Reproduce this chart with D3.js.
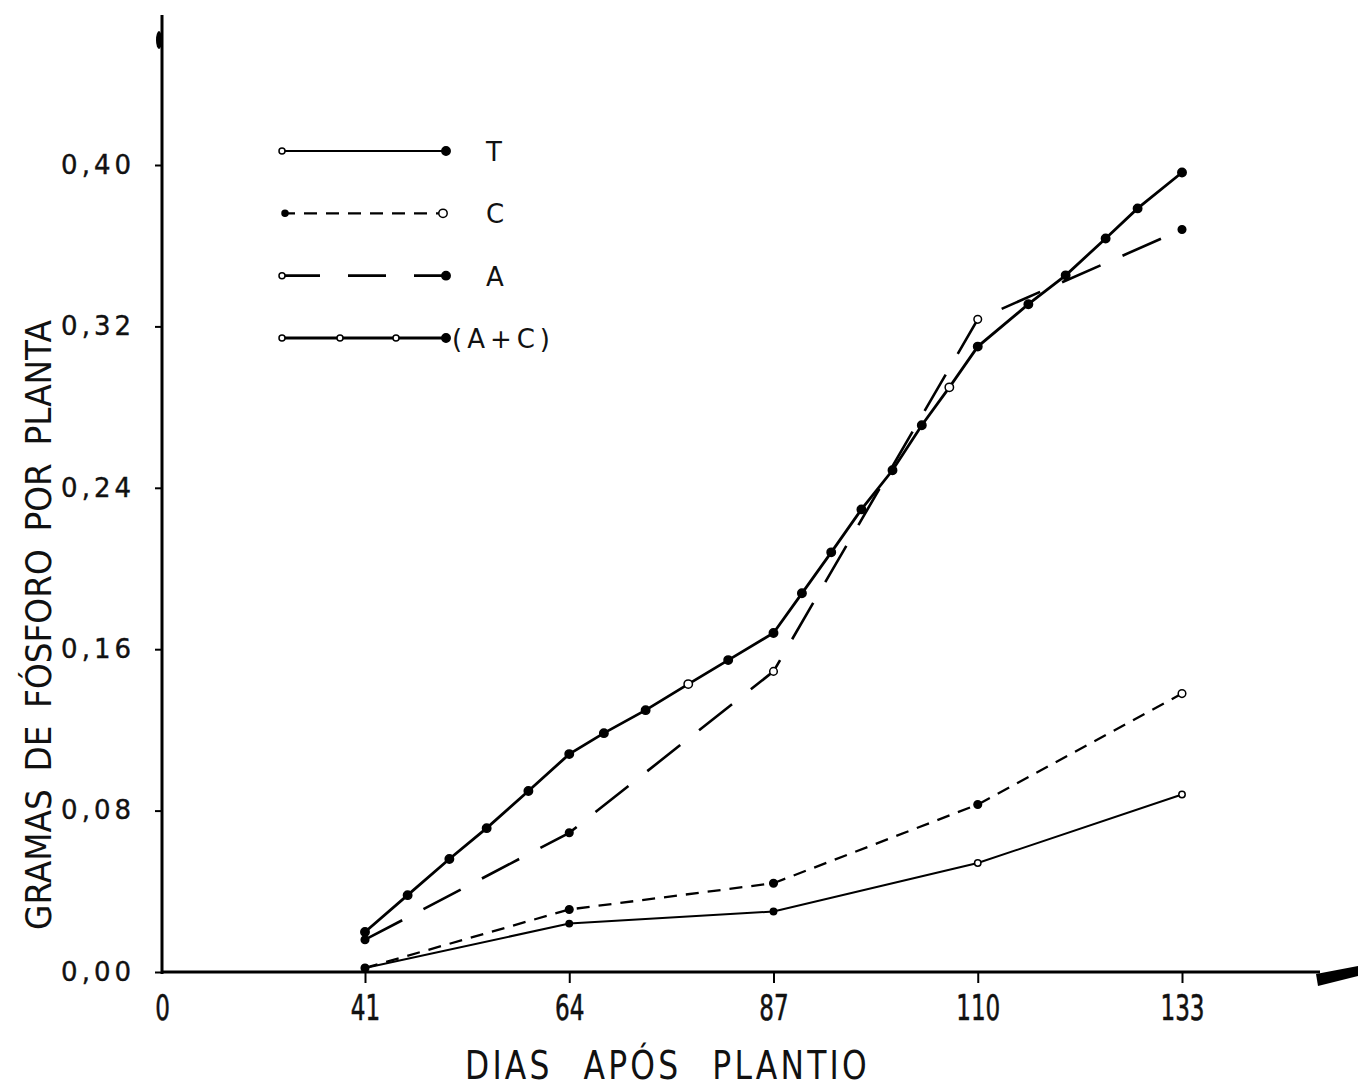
<!DOCTYPE html>
<html><head><meta charset="utf-8">
<script src="https://cdn.jsdelivr.net/npm/d3@7"></script>
<style>
html,body{margin:0;padding:0;background:#fff;}
svg{display:block;}
</style></head>
<body>
<svg id="chart" width="1358" height="1089"></svg>
<script>
// ---- data ----
const xTickValues = [0, 41, 64, 87, 110, 133];
const yTickValues = [0, 0.08, 0.16, 0.24, 0.32, 0.40];
const days = [41, 64, 87, 110, 133];
const valuesT = [0.002, 0.024, 0.030, 0.054, 0.088];
const valuesC = [0.002, 0.031, 0.044, 0.083, 0.138];
const valuesA = [0.016, 0.069, 0.149, 0.3235, 0.368];
const daysAC = [41, 45.8, 50.5, 54.7, 59.4, 64, 67.9, 72.6, 77.4, 81.9, 87, 90.2, 93.5, 96.9, 100.4, 103.7, 106.8, 110, 115.7, 119.9, 124.4, 128, 133];
const valuesAC = [0.0198, 0.0381, 0.056, 0.0713, 0.0897, 0.108, 0.1184, 0.1298, 0.1427, 0.1546, 0.168, 0.1877, 0.208, 0.2293, 0.2487, 0.271, 0.2898, 0.310, 0.331, 0.3453, 0.3636, 0.3785, 0.3963];
const seriesNames = ["T", "C", "A", "(A+C)"];
const xTitle = "DIAS APÓS PLANTIO";
const yTitle = "GRAMAS DE FÓSFORO POR PLANTA";

// ---- styles ----
const styles = {
  "T": {width: 2, dash: null, r: 3.2},
  "C": {width: 2.3, dash: "13,9", r: 3.8},
  "A": {width: 2.6, dash: "42,24", r: 3.8},
  "(A+C)": {width: 2.8, dash: null, r: 4.2}
};
const openMarkers = {"T": [3, 4], "C": [4], "A": [2, 3], "(A+C)": [8, 16]};
const FONT = "DejaVu Sans";

const svg = d3.select("#chart");
const x = d3.scaleLinear().domain([0, 41, 133]).range([162, 365, 1182]);
const y = d3.scaleLinear().domain([0, 0.40]).range([972, 165]);

// axes
const yAxis = d3.axisLeft(y).tickValues(yTickValues).tickSize(7).tickPadding(20)
  .tickFormat(d => d.toFixed(2).replace(".", ","));
const gy = svg.append("g").attr("transform", `translate(${x(0)},0)`).call(yAxis);
gy.select(".domain").remove();
gy.selectAll(".tick line").attr("stroke", "#000").attr("stroke-width", 2);
gy.selectAll(".tick text").attr("font-family", FONT).attr("font-size", 26)
  .attr("letter-spacing", 4).attr("fill", "#111").attr("stroke", "#111").attr("stroke-width", 0.4);

const xAxis = d3.axisBottom(x).tickValues(xTickValues).tickSize(11).tickPadding(12)
  .tickFormat(d => String(d));
const gx = svg.append("g").attr("transform", `translate(0,${y(0)})`).call(xAxis);
gx.select(".domain").remove();
gx.selectAll(".tick line").attr("stroke", "#000").attr("stroke-width", 2)
  .attr("display", d => d === 0 ? "none" : null);
gx.selectAll(".tick text").attr("font-family", FONT).attr("font-size", 35)
  .attr("fill", "#111").attr("stroke", "#111").attr("stroke-width", 0.6)
  .attr("transform", "scale(0.66,1)");

// axis lines
svg.append("line").attr("x1", x(0)).attr("x2", x(0)).attr("y1", y(0) + 2).attr("y2", 15)
  .attr("stroke", "#000").attr("stroke-width", 3);
svg.append("line").attr("x1", x(0)).attr("x2", 1320).attr("y1", y(0)).attr("y2", y(0))
  .attr("stroke", "#000").attr("stroke-width", 3);
svg.append("path").attr("d", "M1316,974 L1358,966 L1358,976 L1318,986 Z").attr("fill", "#000");
svg.append("ellipse").attr("cx", x(0) - 3).attr("cy", 40).attr("rx", 3).attr("ry", 9).attr("fill", "#000");

// titles
svg.append("text").attr("x", 465).attr("y", 1079).attr("font-family", FONT)
  .attr("font-size", 39).attr("word-spacing", 22).attr("letter-spacing", 4)
  .attr("textLength", 405).attr("lengthAdjust", "spacingAndGlyphs")
  .attr("fill", "#111").text(xTitle);
svg.append("text").attr("transform", "translate(51,930) rotate(-90)")
  .attr("font-family", FONT).attr("font-size", 36).attr("word-spacing", 8)
  .attr("textLength", 610).attr("lengthAdjust", "spacingAndGlyphs")
  .attr("fill", "#111").text(yTitle);

// series
const series = [
  {name: "T", pts: days.map((d, i) => [d, valuesT[i]])},
  {name: "C", pts: days.map((d, i) => [d, valuesC[i]])},
  {name: "A", pts: days.map((d, i) => [d, valuesA[i]])},
  {name: "(A+C)", pts: daysAC.map((d, i) => [d, valuesAC[i]])}
];
series.forEach(s => {
  const st = styles[s.name];
  const line = d3.line().x(p => x(p[0])).y(p => y(p[1]));
  svg.append("path").datum(s.pts).attr("d", line).attr("fill", "none")
    .attr("stroke", "#000").attr("stroke-width", st.width)
    .attr("stroke-dasharray", st.dash);
  svg.append("g").selectAll("circle").data(s.pts).join("circle")
    .attr("cx", p => x(p[0])).attr("cy", p => y(p[1])).attr("r", st.r)
    .attr("fill", (p, i) => openMarkers[s.name].includes(i) ? "#fff" : "#000")
    .attr("stroke", "#000").attr("stroke-width", 1.5);
});

// legend
const legendY = d3.scalePoint().domain(seriesNames).range([151, 338]);
const legendOpen = {"T": [0], "C": [1], "A": [0], "(A+C)": [0, 1, 2]};
const legendPts = {"T": [282, 446], "C": [285, 443], "A": [282, 446], "(A+C)": [282, 340, 396, 446]};
seriesNames.forEach(n => {
  const st = styles[n];
  const ly = legendY(n);
  svg.append("line").attr("x1", 282).attr("x2", 446).attr("y1", ly).attr("y2", ly)
    .attr("stroke", "#000").attr("stroke-width", st.width)
    .attr("stroke-dasharray", n === "A" ? "38,28" : st.dash);
  legendPts[n].forEach((px, i) => {
    svg.append("circle").attr("cx", px).attr("cy", ly).attr("r", i === legendPts[n].length - 1 ? 4.2 : 3)
      .attr("fill", legendOpen[n].includes(i) ? "#fff" : "#000")
      .attr("stroke", "#000").attr("stroke-width", 1.5);
  });
  svg.append("text").attr("x", n === "(A+C)" ? 452 : 486).attr("y", ly + 10)
    .attr("font-family", FONT).attr("font-size", 26).attr("letter-spacing", 5)
    .attr("fill", "#111").text(n);
});
</script>
</body></html>
